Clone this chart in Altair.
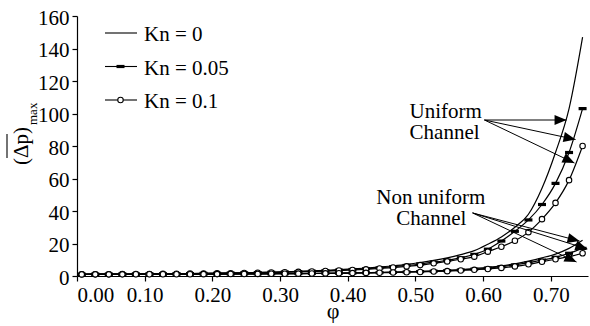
import math
import altair as alt
import pandas as pd

# ---------------- data ----------------
phi = [0.007, 0.027, 0.047, 0.067, 0.087, 0.107, 0.127, 0.147, 0.167, 0.187,
       0.207, 0.227, 0.247, 0.267, 0.287, 0.307, 0.327, 0.347, 0.367, 0.387,
       0.407, 0.427, 0.447, 0.467, 0.487, 0.507, 0.527, 0.547, 0.567, 0.587,
       0.607, 0.627, 0.647, 0.667, 0.687, 0.707, 0.727, 0.747]

uni_kn0 = [1.05, 1.1, 1.15, 1.2, 1.25, 1.3, 1.4, 1.45, 1.55, 1.65,
           1.75, 1.9, 2.0, 2.2, 2.4, 2.6, 2.85, 3.15, 3.5, 3.9,
           4.35, 4.9, 5.5, 6.3, 7.2, 8.3, 9.6, 11.2, 13.2, 15.6,
           19.5, 24, 30, 38, 54, 76, 103, 147]
uni_kn005 = [1.05, 1.1, 1.15, 1.2, 1.25, 1.3, 1.35, 1.45, 1.5, 1.6,
             1.7, 1.8, 1.95, 2.1, 2.3, 2.5, 2.7, 2.95, 3.25, 3.6,
             4.0, 4.45, 5.0, 5.7, 6.5, 7.4, 8.5, 9.7, 11.2, 13.3,
             16.5, 21.5, 27.5, 34.5, 44, 57, 76, 103]
uni_kn01 = [1.05, 1.1, 1.12, 1.17, 1.22, 1.27, 1.32, 1.4, 1.47, 1.55,
            1.63, 1.72, 1.85, 2.0, 2.15, 2.35, 2.55, 2.8, 3.05, 3.35,
            3.7, 4.1, 4.6, 5.2, 5.9, 6.7, 7.8, 9.0, 10.3, 11.9,
            15, 18, 21.7, 27, 35, 45, 59, 80]
non_kn0 = [1.0, 1.02, 1.03, 1.04, 1.05, 1.06, 1.08, 1.1, 1.12, 1.15,
           1.2, 1.25, 1.3, 1.35, 1.4, 1.45, 1.5, 1.6, 1.7, 1.8,
           1.9, 2.05, 2.2, 2.4, 2.6, 2.85, 3.15, 3.5, 4.0, 4.6,
           5.3, 6.2, 7.5, 9.2, 11.2, 13.5, 17, 22]
non_kn005 = [1.0, 1.01, 1.02, 1.03, 1.04, 1.05, 1.07, 1.09, 1.11, 1.14,
             1.18, 1.22, 1.27, 1.32, 1.37, 1.42, 1.48, 1.55, 1.65, 1.75,
             1.85, 1.95, 2.1, 2.25, 2.45, 2.7, 2.95, 3.3, 3.7, 4.2,
             4.9, 5.7, 6.8, 8.2, 9.8, 11.5, 14, 17]
non_kn01 = [1.0, 1.01, 1.02, 1.03, 1.04, 1.05, 1.06, 1.08, 1.1, 1.13,
            1.16, 1.2, 1.25, 1.3, 1.35, 1.4, 1.45, 1.52, 1.6, 1.7,
            1.8, 1.9, 2.0, 2.15, 2.3, 2.5, 2.75, 3.0, 3.4, 3.8,
            4.3, 5.0, 5.9, 7.2, 8.8, 10.3, 11.9, 14]

legend_labels = ["Kn = 0", "Kn = 0.05", "Kn = 0.1"]
x_ticks = [0.0, 0.1, 0.2, 0.3, 0.4, 0.5, 0.6, 0.7]
y_ticks = [0, 20, 40, 60, 80, 100, 120, 140, 160]

# annotations (data units)
ann_text = ["Uniform", "Channel", "Non uniform", "Channel"]
ann_tx = [0.4914, 0.4914, 0.4422, 0.4718]
ann_ty = [97.2, 84.3, 44.3, 31.4]
arrow_x0 = [0.602, 0.602, 0.602, 0.5845, 0.5845, 0.5845]
arrow_y0 = [96, 96, 96, 38.8, 38.8, 38.8]
arrow_x1 = [0.7233, 0.7366, 0.735, 0.7425, 0.754, 0.738]
arrow_y1 = [96, 84, 69.5, 21.5, 16.6, 8.6]

# ---------------- layout ----------------
W, H = 511, 260
XMAX, YMAX = 0.755, 160
FONT = "Liberation Serif"

series = [("U", "0", uni_kn0), ("U", "0.05", uni_kn005), ("U", "0.1", uni_kn01),
          ("N", "0", non_kn0), ("N", "0.05", non_kn005), ("N", "0.1", non_kn01)]
rows = []
for ch, kn, vals in series:
    assert len(vals) == len(phi)
    for p, v in zip(phi, vals):
        rows.append({"phi": p, "dp": v, "series": ch + kn, "kn": kn})
df = pd.DataFrame(rows)

xs = alt.Scale(domain=[0, XMAX], nice=False, zero=False)
ys = alt.Scale(domain=[0, YMAX], nice=False)
xaxis = alt.Axis(values=x_ticks, format=".2f", title="φ", labelFont=FONT, titleFont=FONT)
yaxis = alt.Axis(values=y_ticks, title=None, labelFont=FONT, labelOffset=2)


def X(f):
    return alt.X(f, type="quantitative", scale=xs, axis=xaxis)


def Y(f):
    return alt.Y(f, type="quantitative", scale=ys, axis=yaxis)


base = alt.Chart(df)
lines = base.mark_line(color="black", strokeWidth=1.2, interpolate="monotone").encode(
    x=X("phi"), y=Y("dp"), detail="series:N")

DASH = "M-1,-0.4H1V0.4H-1Z"
dashes = base.transform_filter(alt.datum.kn == "0.05").mark_point(
    shape=DASH, size=64, filled=True, color="black", opacity=1).encode(x=X("phi"), y=Y("dp"))
circles = base.transform_filter(alt.datum.kn == "0.1").mark_point(
    shape="circle", size=30, filled=True, fill="white", stroke="black",
    strokeWidth=1.1, opacity=1).encode(x=X("phi"), y=Y("dp"))

# arrows
adf = pd.DataFrame({"x0": arrow_x0, "y0": arrow_y0, "x1": arrow_x1, "y1": arrow_y1})
adf["ang"] = [
    math.degrees(math.atan2(-(b1 - b0) * H / YMAX, (a1 - a0) * W / XMAX)) % 360
    for a0, b0, a1, b1 in zip(arrow_x0, arrow_y0, arrow_x1, arrow_y1)]
ARROW = "M0,0L-1,-0.42L-1,0.42Z"
arrow_lines = alt.Chart(adf).mark_rule(color="black", strokeWidth=1).encode(
    x=X("x0"), y=Y("y0"), x2="x1:Q", y2="y1:Q")
arrow_heads = alt.Chart(adf).mark_point(
    shape=ARROW, size=576, filled=True, color="black", opacity=1, strokeWidth=0).encode(
    x=X("x1"), y=Y("y1"), angle=alt.Angle("ang:Q", scale=None))

tdf = pd.DataFrame({"t": ann_text, "tx": ann_tx, "ty": ann_ty})
ann = alt.Chart(tdf).mark_text(align="left", baseline="alphabetic", font=FONT,
                               fontSize=21, color="black").encode(
    x=X("tx"), y=Y("ty"), text="t:N")

# manual legend (pixel layout)
LX0, LX1, LXM, LTX = 28, 60, 43.5, 67
LY = [17, 50.5, 84]
ldf = pd.DataFrame({"label": legend_labels, "ly": LY, "lty": [v + 8 for v in LY],
                    "lx0": [LX0] * 3, "lx1": [LX1] * 3, "lxm": [LXM] * 3,
                    "ltx": [LTX] * 3, "kn": ["0", "0.05", "0.1"]})
lbase = alt.Chart(ldf)
leg_lines = lbase.mark_rule(color="black", strokeWidth=1.1).encode(
    x=alt.X("lx0:Q", scale=None), x2="lx1:Q", y=alt.Y("ly:Q", scale=None))
leg_text = lbase.mark_text(align="left", baseline="alphabetic", font=FONT,
                           fontSize=21, color="black").encode(
    x=alt.X("ltx:Q", scale=None), y=alt.Y("lty:Q", scale=None), text="label:N")
leg_dash = lbase.transform_filter(alt.datum.kn == "0.05").mark_point(
    shape=DASH, size=64, filled=True, color="black", opacity=1).encode(
    x=alt.X("lxm:Q", scale=None), y=alt.Y("ly:Q", scale=None))
leg_circ = lbase.transform_filter(alt.datum.kn == "0.1").mark_point(
    shape="circle", size=30, filled=True, fill="white", stroke="black",
    strokeWidth=1.1, opacity=1).encode(
    x=alt.X("lxm:Q", scale=None), y=alt.Y("ly:Q", scale=None))

# y-axis title: (Δp) with overline and subscript max
tt = pd.DataFrame({"a": [0]})
ytitle_main = alt.Chart(tt).mark_text(text="(Δp)", angle=270, align="center",
                                      baseline="alphabetic", font=FONT, fontSize=21,
                                      color="black").encode(
    x=alt.value(-49), y=alt.value(130))
ytitle_sub = alt.Chart(tt).mark_text(text="max", angle=270, align="left",
                                     baseline="alphabetic", font=FONT, fontSize=13,
                                     color="black").encode(
    x=alt.value(-40), y=alt.value(109))
ytitle_bar = alt.Chart(tt).mark_rule(color="black", strokeWidth=1.1).encode(
    x=alt.value(-70), y=alt.value(118), y2=alt.value(142))

chart = alt.layer(
    lines, dashes, circles, arrow_lines, arrow_heads, ann,
    leg_lines, leg_dash, leg_circ, leg_text,
    ytitle_main, ytitle_sub, ytitle_bar,
).properties(
    width=W, height=H,
    autosize=alt.AutoSizeParams(type="none"),
    padding={"left": 77, "top": 16, "right": 2, "bottom": 50},
).configure(font=FONT).configure_view(stroke=None).configure_axis(
    grid=False, labelFont=FONT, labelFontSize=21, labelColor="black",
    titleFont=FONT, titleFontSize=22, titleFontWeight="normal", titleColor="black",
    domainColor="black", domainWidth=1.2, tickColor="black", tickWidth=1.2,
    tickSize=5, labelPadding=3,
).configure_axisX(titlePadding=-5).configure_text(font=FONT)

chart.save("out.html", embed_options={"renderer": "svg", "actions": False})
